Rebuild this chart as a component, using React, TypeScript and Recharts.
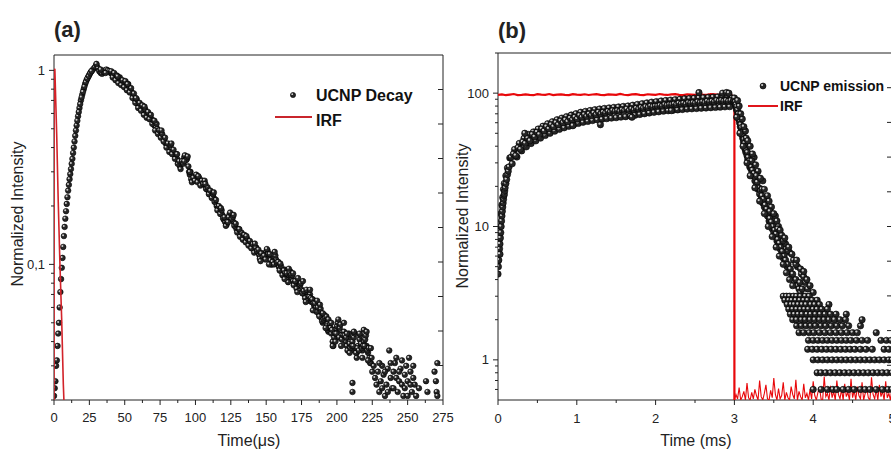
import React from 'react';
import { ScatterChart, Scatter, XAxis, YAxis, Legend } from 'recharts';

const FONT = '"Liberation Sans", Arial, sans-serif';
const INK = '#222';

// ---------- panel (a): UCNP decay, one reading per µs starting at 0 µs
const decayA = [
  0.021, 0.025, 0.032, 0.044, 0.06, 0.084, 0.108, 0.14, 0.172, 0.205,
  0.24, 0.275, 0.31, 0.35, 0.4, 0.46, 0.52, 0.58, 0.64, 0.7,
  0.75, 0.8, 0.85, 0.89, 0.92, 0.95, 0.98, 1.0, 1.02, 1.04,
  1.07, 1.03, 0.99, 0.97, 0.96, 0.98, 1.0, 1.01, 1.0, 0.99,
  0.97, 0.96, 0.94, 0.93, 0.91, 0.9, 0.89, 0.88, 0.86, 0.85,
  0.85, 0.83, 0.82, 0.81, 0.8, 0.77, 0.74, 0.71, 0.69, 0.67,
  0.66, 0.65, 0.64, 0.62, 0.61, 0.6, 0.59, 0.585, 0.58, 0.56,
  0.54, 0.52, 0.51, 0.5, 0.48, 0.47, 0.46, 0.45, 0.44, 0.42,
  0.41, 0.4, 0.4, 0.39, 0.38, 0.37, 0.36, 0.35, 0.335, 0.32,
  0.33, 0.34, 0.355, 0.36, 0.35, 0.32, 0.29, 0.275, 0.27, 0.28,
  0.285, 0.275, 0.27, 0.265, 0.26, 0.27, 0.265, 0.255, 0.245, 0.24,
  0.235, 0.23, 0.225, 0.22, 0.21, 0.2, 0.195, 0.19, 0.185, 0.18,
  0.17, 0.165, 0.16, 0.17, 0.18, 0.178, 0.172, 0.165, 0.158, 0.152,
  0.148, 0.145, 0.142, 0.14, 0.138, 0.136, 0.132, 0.13, 0.128, 0.126,
  0.124, 0.12, 0.118, 0.122, 0.116, 0.112, 0.11, 0.114, 0.108, 0.11,
  0.116, 0.118, 0.11, 0.105, 0.1, 0.104, 0.108, 0.106, 0.1, 0.097,
  0.095, 0.092, 0.09, 0.094, 0.088, 0.084, 0.088, 0.092, 0.085, 0.082,
  0.08, 0.078, 0.082, 0.076, 0.078, 0.074, 0.071, 0.07, 0.072, 0.068,
  0.066, 0.07, 0.064, 0.066, 0.061, 0.06, 0.058, 0.056, 0.057, 0.053,
  0.05, 0.055, 0.052, 0.048, 0.045, 0.049, 0.044, 0.04, 0.042, 0.046,
  0.048, 0.044, 0.047, 0.043, 0.041, 0.045, 0.04, 0.038, 0.042, 0.039,
  0.036, 0.04, 0.042, 0.037, 0.035, 0.038, 0.041, 0.039, 0.036, 0.04,
  0.041, 0.038, 0.035, 0.033, 0.031,
];

// second pass of readings, offset half a µs (40.5 µs onwards)
const decayAHalf = [
  0.99, 0.92, 0.97, 0.89, 0.94, 0.86, 0.92, 0.84, 0.89, 0.82,
  0.88, 0.79, 0.85, 0.77, 0.81, 0.72, 0.76, 0.68, 0.71, 0.64,
  0.68, 0.62, 0.66, 0.59, 0.63, 0.57, 0.61, 0.56, 0.59, 0.53,
  0.55, 0.49, 0.53, 0.47, 0.49, 0.45, 0.47, 0.43, 0.45, 0.4,
  0.42, 0.38, 0.41, 0.37, 0.39, 0.35, 0.37, 0.33, 0.34, 0.31,
  0.34, 0.33, 0.365, 0.345, 0.36, 0.3, 0.3, 0.265, 0.28, 0.27,
  0.29, 0.265, 0.28, 0.255, 0.27, 0.26, 0.27, 0.245, 0.25, 0.23,
  0.24, 0.22, 0.23, 0.21, 0.215, 0.19, 0.2, 0.182, 0.19, 0.173,
  0.175, 0.158, 0.166, 0.175, 0.185, 0.171, 0.176, 0.158, 0.162, 0.146,
  0.152, 0.139, 0.146, 0.134, 0.142, 0.13, 0.136, 0.125, 0.132, 0.121,
  0.127, 0.115, 0.122, 0.117, 0.119, 0.107, 0.114, 0.109, 0.111, 0.106,
  0.12, 0.113, 0.113, 0.1, 0.103, 0.1, 0.111, 0.102, 0.103, 0.093,
  0.098, 0.088, 0.093, 0.09, 0.09, 0.081, 0.091, 0.088, 0.088, 0.078,
  0.082, 0.075, 0.085, 0.073, 0.08, 0.071, 0.073, 0.067, 0.074, 0.065,
  0.068, 0.067, 0.066, 0.063, 0.063, 0.057, 0.06, 0.054, 0.059, 0.051,
  0.052, 0.053, 0.054, 0.046, 0.047, 0.047, 0.046, 0.038, 0.044, 0.044,
  0.05, 0.042, 0.049, 0.041, 0.043, 0.043, 0.042, 0.036, 0.044, 0.037,
  0.038, 0.038, 0.044, 0.035, 0.037, 0.036, 0.043, 0.037, 0.038, 0.038,
  0.043, 0.036, 0.037, 0.031, 0.033,
];

// extra readings on the rising edge and around the band
const decayAExtra: [number, number][] = [
  [0.5, 0.023], [1.5, 0.03], [2.5, 0.038], [3.5, 0.05], [4.5, 0.072], [5.5, 0.096], [6.5, 0.123],
  [7.5, 0.156], [8.5, 0.188], [9.5, 0.222], [10.5, 0.257], [11.5, 0.292], [12.5, 0.33], [13.5, 0.375],
  [14.5, 0.43], [15.5, 0.49], [16.5, 0.55], [17.5, 0.61], [18.5, 0.67], [19.5, 0.725], [20.5, 0.775],
  [21.5, 0.825], [22.5, 0.87], [23.5, 0.905], [24.5, 0.935], [25.5, 0.965], [26.5, 0.99], [30, 1.08],
  [33, 1.01], [36.5, 0.97], [45, 0.93], [52, 0.85], [58, 0.72],
  [64, 0.65], [71, 0.55], [76, 0.49], [83, 0.42], [87, 0.37], [92, 0.34], [96, 0.3], [102, 0.285],
  [107, 0.26], [113, 0.235], [118, 0.195], [123, 0.165], [127, 0.18], [131, 0.152], [136, 0.14],
  [142, 0.128], [146, 0.104], [152, 0.1], [156, 0.116], [160, 0.101], [163, 0.084], [166, 0.095],
  [169, 0.09], [172, 0.072], [176, 0.082], [178, 0.064], [181, 0.074], [183, 0.058], [186, 0.065],
  [188, 0.062], [190, 0.056], [192, 0.047], [194, 0.052], [196, 0.05], [197, 0.038], [199, 0.04],
  [201, 0.052], [203, 0.038], [205, 0.05], [207, 0.044], [209, 0.035], [211, 0.0245], [211, 0.022],
  [212, 0.045], [214, 0.033], [216, 0.044], [218, 0.033], [219, 0.046], [221, 0.045], [222, 0.032],
  [224, 0.037], [225, 0.028],
];

// noisy tail near the noise floor
const decayATail: [number, number][] = [
  [226, 0.03], [227, 0.026], [228, 0.024], [229, 0.028], [230, 0.022], [231, 0.025], [232, 0.03],
  [233, 0.027], [234, 0.021], [235, 0.024], [236, 0.029], [237, 0.036], [238, 0.026], [239, 0.023],
  [240, 0.028], [241, 0.031], [242, 0.026], [243, 0.022], [244, 0.025], [245, 0.029], [246, 0.024],
  [247, 0.021], [248, 0.027], [249, 0.03], [250, 0.025], [251, 0.033], [252, 0.028], [253, 0.022],
  [254, 0.026], [255, 0.024], [256, 0.021], [258, 0.023], [263, 0.025], [264, 0.022], [269, 0.028],
  [270, 0.025], [270.5, 0.022], [271, 0.031], [271, 0.021],
  [230, 0.031], [232, 0.023], [234, 0.028], [236, 0.022], [238, 0.031], [240, 0.023], [242, 0.033],
  [244, 0.028], [246, 0.032], [248, 0.023], [250, 0.021], [252, 0.024], [254, 0.03],
];

const irfA: [number, number][] = [
  [0, 0.02], [0.1, 1.0], [0.6, 1.02], [1.0, 0.8], [1.9, 0.47], [3.0, 0.21], [4.2, 0.1],
  [5.4, 0.053], [6.6, 0.024], [7, 0.02],
];

const aXMajor = [0, 25, 50, 75, 100, 125, 150, 175, 200, 225, 250, 275];
const aXLabels = ['0', '25', '50', '75', '100', '125', '150', '175', '200', '225', '250', '275'];
const aXMinor = [12.5, 37.5, 62.5, 87.5, 112.5, 137.5, 162.5, 187.5, 212.5, 237.5, 262.5];
const aYMajor = [0.1, 1];
const aYLabels = ['0,1', '1'];
const aYMinor = [0.02, 0.03, 0.04, 0.05, 0.06, 0.07, 0.08, 0.09, 0.2, 0.3, 0.4, 0.5, 0.6, 0.7, 0.8, 0.9];

// ---------- panel (b): UCNP emission, time in ms
const emissionEarly: [number, number][] = [
  [0, 4.4], [0, 5.5], [0.005, 5], [0.005, 6.5], [0.01, 5.6], [0.01, 7.5], [0.015, 6.2], [0.015, 8],
  [0.02, 6.8], [0.02, 8.5], [0.025, 7.4], [0.025, 6.2], [0.03, 8.2], [0.03, 10], [0.035, 9],
  [0.04, 10], [0.04, 12.5], [0.045, 11], [0.05, 12], [0.05, 14.5], [0.055, 13], [0.06, 14],
  [0.06, 16.5], [0.065, 15], [0.07, 16], [0.07, 19], [0.075, 17], [0.08, 17.5], [0.08, 21],
  [0.085, 18.5], [0.09, 19.5], [0.1, 21], [0.1, 24], [0.11, 22.5], [0.12, 24.5], [0.12, 27.5],
  [0.13, 26], [0.14, 28],
];

// readings every 0.03 ms from 0.15 ms (upper and lower edge of the band)
const emissionRise = [
  32.7, 29.6, 37.8, 33.2, 42, 36.9, 45.8, 39.6, 49, 41.9,
  51.2, 43.9, 53.8, 46, 56.5, 48.2, 58.9, 50, 61, 51.9,
  63.2, 53.5, 65, 55, 66.7, 56.4, 68.5, 57.9, 70.2, 59.3,
  71.9, 60.5, 73, 61.4, 74.1, 62.3, 75.1, 63.1, 76, 63.8,
  76.8, 64.4, 77.5, 65, 78.2, 65.5, 78.8, 66.1, 79.5, 66.6,
  80.1, 67.3, 81.2, 68.3, 82.3, 69.2, 83.4, 70.1, 84.5, 71,
  85.6, 71.8, 86.4, 72.5, 87.3, 73.3, 88.1, 73.8, 88.7, 74.3,
  89.4, 74.9, 90, 75.4, 90.7, 76, 91.2, 76.3, 91.7, 76.7,
  92.1, 77.1, 92.5, 77.4, 93, 77.8, 93.4, 78.2, 93.8, 78.5,
  94.3, 78.9, 94.7, 79.2, 92,
];

// readings every 0.03 ms from 0.165 ms (middle of the band)
const emissionRiseMid = [
  33, 35, 34, 39, 38, 43, 42, 46, 44, 49,
  47, 51, 49, 54, 52, 56, 54, 58, 56, 60,
  58, 62, 60, 63, 61, 65, 63, 66, 64, 68,
  66, 69, 67, 70, 68, 71, 69, 72, 70, 72,
  71, 73, 72, 74, 73, 74, 73, 75, 74, 76,
  74, 76, 75, 77, 76, 78, 77, 79, 78, 80,
  79, 80, 80, 81, 80, 82, 81, 82, 82, 83,
  82, 84, 83, 84, 83, 85, 84, 85, 84, 86,
  85, 86, 85, 87, 86, 87, 86, 88, 87, 88,
  87, 88, 87, 88, 86,
];

const emissionExtra: [number, number][] = [
  [0.34, 50], [0.95, 57], [1.3, 58], [1.7, 66], [2.2, 74], [2.55, 101], [2.85, 100], [2.9, 101], [2.93, 100],
];

const emissionDecay: [number, number][] = [
  [2.99, 88], [3.0, 92], [3.005, 84], [3.01, 86], [3.015, 80], [3.02, 82], [3.025, 76], [3.03, 79],
  [3.035, 73], [3.04, 75], [3.045, 68], [3.05, 70], [3.055, 64], [3.06, 66], [3.065, 60], [3.07, 62],
  [3.075, 56], [3.08, 58], [3.085, 52], [3.09, 55], [3.095, 49], [3.1, 51], [3.105, 46], [3.11, 48],
  [3.115, 43], [3.12, 45], [3.125, 41], [3.13, 42], [3.135, 38], [3.14, 40], [3.145, 36], [3.15, 37.5],
  [3.16, 34], [3.165, 36], [3.17, 32], [3.175, 33], [3.18, 30], [3.19, 31], [3.195, 28], [3.2, 29.5],
  [3.21, 27], [3.215, 28], [3.22, 25], [3.23, 26.5], [3.24, 24], [3.25, 25], [3.26, 22], [3.27, 23],
  [3.28, 20.5], [3.29, 21.5], [3.3, 19], [3.31, 19.5], [3.32, 17.5], [3.33, 18.5], [3.34, 16], [3.35, 17],
  [3.36, 15], [3.37, 16], [3.38, 14], [3.39, 14.5], [3.4, 13], [3.41, 13.5], [3.42, 12], [3.43, 12.5],
  [3.44, 11], [3.45, 11.5], [3.46, 10.5], [3.47, 10.8], [3.48, 9.6], [3.49, 10], [3.5, 9], [3.51, 9.4],
  [3.52, 8.4], [3.53, 8.8], [3.54, 7.8], [3.55, 8], [3.56, 7.2], [3.57, 7.5], [3.58, 6.8], [3.59, 7],
  [3.6, 6.3], [3.61, 6.5], [3.62, 5.8], [3.63, 6], [3.64, 5.4], [3.65, 5.6], [3.67, 5], [3.68, 5.2],
  [3.7, 4.6], [3.71, 4.8], [3.73, 4.2], [3.74, 4.4], [3.76, 3.8], [3.78, 4], [3.8, 3.6], [3.82, 3.4],
  [3.84, 3.2], [3.86, 3.4],
  [3.14, 52], [3.2, 40], [3.25, 33], [3.3, 26], [3.36, 22], [3.42, 17], [3.47, 14], [3.52, 12],
  [3.56, 10], [3.6, 8.6], [3.65, 7.4], [3.7, 6.4], [3.75, 5.6], [3.8, 5], [3.85, 4.4], [3.9, 3.8],
  [3.93, 3.4], [3.06, 80], [3.1, 64], [3.15, 46], [3.22, 31], [3.28, 24], [3.35, 19], [3.45, 13],
  [3.55, 9.6], [3.62, 7.8], [3.68, 6.6], [3.78, 5.2], [3.88, 4.2], [3.83, 3.8],
  [3.04, 88], [3.08, 70], [3.12, 56], [3.17, 44], [3.23, 35], [3.27, 29], [3.33, 23], [3.38, 19],
  [3.44, 15.5], [3.5, 12.5], [3.54, 11], [3.58, 9.4], [3.64, 8.2], [3.69, 7], [3.73, 6.2], [3.79, 5.6],
  [3.84, 4.8], [3.88, 4.6], [3.92, 4], [3.96, 3.6], [4.0, 3.2],
  [3.03, 66], [3.07, 50], [3.11, 40], [3.16, 30], [3.2, 24], [3.26, 19.5], [3.32, 15.5], [3.38, 12.5],
  [3.43, 10], [3.48, 8.4], [3.53, 7], [3.57, 6], [3.62, 5.2], [3.66, 4.5], [3.7, 4], [3.74, 3.6],
];

// photon-count floor: readings sit on discrete levels
const tailLevels = [3.0, 2.8, 2.6, 2.4, 2.2, 2.0, 1.8, 1.6, 1.4, 1.2, 1.0, 0.8, 0.6];
const tailTimes = [
  [3.62, 3.66, 3.7, 3.75, 3.79, 3.84, 3.9, 3.95],
  [3.64, 3.69, 3.73, 3.78, 3.83, 3.88, 3.93, 3.99, 4.05],
  [3.67, 3.72, 3.76, 3.81, 3.86, 3.91, 3.97, 4.02, 4.08, 4.2],
  [3.69, 3.74, 3.79, 3.84, 3.89, 3.94, 4.0, 4.05, 4.11, 4.18],
  [3.71, 3.76, 3.81, 3.86, 3.92, 3.97, 4.03, 4.09, 4.15, 4.22, 4.29, 4.42],
  [3.74, 3.79, 3.85, 3.9, 3.96, 4.02, 4.08, 4.14, 4.2, 4.27, 4.34, 4.41, 4.62],
  [3.79, 3.85, 3.91, 3.97, 4.03, 4.1, 4.16, 4.23, 4.3, 4.37, 4.45, 4.6],
  [3.82, 3.88, 3.95, 4.01, 4.08, 4.15, 4.22, 4.29, 4.36, 4.43, 4.5, 4.56, 4.8],
  [3.94, 4.0, 4.06, 4.12, 4.18, 4.24, 4.3, 4.36, 4.42, 4.48, 4.55, 4.62, 4.69, 4.86, 4.93, 4.99],
  [3.93, 3.99, 4.05, 4.11, 4.17, 4.23, 4.29, 4.35, 4.41, 4.47, 4.53, 4.6, 4.67, 4.75, 4.9, 4.96],
  [4.0, 4.06, 4.12, 4.18, 4.24, 4.3, 4.36, 4.42, 4.48, 4.54, 4.6, 4.66, 4.72, 4.78, 4.84, 4.9, 4.96, 5.0],
  [4.05, 4.1, 4.16, 4.22, 4.28, 4.34, 4.4, 4.46, 4.52, 4.58, 4.64, 4.7, 4.76, 4.82, 4.88, 4.94, 5.0],
  [4.0, 4.1, 4.18, 4.25, 4.3, 4.38, 4.45, 4.52, 4.6, 4.66, 4.72, 4.8, 4.88, 4.95, 5.0],
];

// IRF: flat plateau every 0.05 ms up to the 3 ms cut-off
const irfBFlat = [
  97, 98, 96.5, 97.5, 98.5, 96.8, 97.2, 98, 97, 96.5, 98.2, 97.5, 97, 98.5, 96.8, 97.6, 98, 97.1, 96.6, 98.3,
  97.4, 97, 98.1, 96.9, 97.7, 98.4, 97.2, 96.7, 98, 97.5, 97, 98.6, 97.3, 96.8, 97.9, 98.2, 97, 96.6, 98.1, 97.6,
  97.1, 98.5, 97.4, 96.9, 97.8, 98.3, 97.2, 96.7, 98, 97.5, 97.1, 98.4, 97.6, 97, 98.2, 97.8, 97.3, 98.6, 97.9, 97.5,
];
const irfBEdge: [number, number][] = [[2.98, 95], [3.0, 90], [3.0, 0.5]];
// IRF noise floor every 0.02 ms after 3 ms
const irfBFloor = [
  0.5, 0.55, 0.51, 0.62, 0.5, 0.53, 0.58, 0.5, 0.67, 0.52,
  0.5, 0.57, 0.51, 0.6, 0.54, 0.5, 0.7, 0.53, 0.5, 0.56,
  0.65, 0.51, 0.5, 0.59, 0.52, 0.73, 0.55, 0.5, 0.61, 0.51,
  0.54, 0.68, 0.5, 0.57, 0.52, 0.5, 0.63, 0.55, 0.51, 0.71,
  0.5, 0.58, 0.53, 0.5, 0.66, 0.52, 0.56, 0.5, 0.6, 0.51,
  0.69, 0.54, 0.5, 0.57, 0.62, 0.51, 0.5, 0.75, 0.53, 0.56,
  0.5, 0.64, 0.52, 0.58, 0.5, 0.7, 0.55, 0.51, 0.6, 0.5,
  0.66, 0.53, 0.57, 0.5, 0.72, 0.52, 0.59, 0.5, 0.63, 0.54,
  0.51, 0.68, 0.5, 0.56, 0.61, 0.52, 0.5, 0.74, 0.55, 0.51,
  0.6, 0.5, 0.65, 0.53, 0.58, 0.5, 0.69, 0.52, 0.56, 0.5,
  0.62,
];

const bXMajor = [0, 1, 2, 3, 4, 5];
const bXLabels = ['0', '1', '2', '3', '4', '5'];
const bXMinor = [0.5, 1.5, 2.5, 3.5, 4.5];
const bYMajor = [1, 10, 100];
const bYLabels = ['1', '10', '100'];
const bYMinor = [0.6, 0.7, 0.8, 0.9, 2, 3, 4, 5, 6, 7, 8, 9, 20, 30, 40, 50, 60, 70, 80, 90, 200];

const frameTicks = [1, 2, 3, 4, 5, 6, 7, 8, 9];

// ---------- build point lists
const pairs = (list: [number, number][]) => list.map(([t, v]) => ({ t, v }));

const decayAData = [
  ...decayA.map((v, i) => ({ t: i, v })),
  ...decayAHalf.map((v, i) => ({ t: 40.5 + i, v })),
  ...pairs(decayAExtra),
  ...pairs(decayATail),
];
const irfAData = pairs(irfA);

const emissionData = [
  ...pairs(emissionEarly),
  ...emissionRise.map((v, i) => ({ t: 0.15 + i * 0.03, v })),
  ...emissionRiseMid.map((v, i) => ({ t: 0.165 + i * 0.03, v })),
  ...pairs(emissionExtra),
  ...pairs(emissionDecay),
  ...tailLevels.flatMap((v, k) => tailTimes[k].map((t) => ({ t, v }))),
];
const irfBTopData = [...irfBFlat.map((v, i) => ({ t: i * 0.05, v })), ...pairs(irfBEdge)];
const irfBFloorData = irfBFloor.map((v, i) => ({ t: 3 + i * 0.02, v }));

// ---------- drawing helpers
const Ball = ({ cx, cy, r }: { cx?: number; cy?: number; r: number }) => {
  if (cx == null || cy == null) return <g />;
  return (
    <g>
      <circle cx={cx} cy={cy} r={r} fill="#262626" stroke="#000" strokeWidth={0.6} />
      <circle cx={cx - r * 0.3} cy={cy - r * 0.32} r={r * 0.36} fill="#cfcfcf" />
    </g>
  );
};

type Side = 'bottom' | 'left' | 'top' | 'right';

// tick line + optional label, drawn from the axis position recharts passes in
const tickMark =
  (side: Side, majors: number[], labels: string[], majorLen: number, minorLen: number, gap: number) =>
  (props: any) => {
    const { x, y, payload } = props;
    const k = majors.indexOf(payload.value);
    const len = k >= 0 ? majorLen : minorLen;
    let x2 = x;
    let y2 = y;
    let tx = x;
    let ty = y;
    let anchor: 'middle' | 'end' = 'middle';
    if (side === 'bottom') {
      y2 = y + len;
      ty = y + gap;
    } else if (side === 'top') {
      y2 = y + len;
    } else if (side === 'left') {
      x2 = x - len;
      tx = x - gap;
      anchor = 'end';
    } else {
      x2 = x - len;
    }
    return (
      <g>
        <line x1={x} y1={y} x2={x2} y2={y2} stroke={INK} strokeWidth={1} />
        {k >= 0 && labels[k] ? (
          <text x={tx} y={ty} textAnchor={anchor} dominantBaseline="central" fontFamily={FONT} fontSize={13} fill={INK}>
            {labels[k]}
          </text>
        ) : null}
      </g>
    );
  };

const axisLine = { stroke: INK, strokeWidth: 1 };

const LegendA = () => (
  <svg width={160} height={48} style={{ display: 'block' }}>
    <Ball cx={23} cy={13} r={2.6} />
    <text x={46} y={13} dominantBaseline="central" fontFamily={FONT} fontWeight="bold" fontSize={16} fill="#111">
      UCNP Decay
    </text>
    <line x1={5} y1={35} x2={42} y2={35} stroke="#c9252c" strokeWidth={2} />
    <text x={46} y={38} dominantBaseline="central" fontFamily={FONT} fontWeight="bold" fontSize={16} fill="#111">
      IRF
    </text>
  </svg>
);

const LegendB = () => (
  <svg width={146} height={42} style={{ display: 'block' }}>
    <Ball cx={18} cy={12} r={3} />
    <text x={35} y={12} dominantBaseline="central" fontFamily={FONT} fontWeight="bold" fontSize={14} fill="#111">
      UCNP emission
    </text>
    <line x1={3} y1={32} x2={33} y2={32} stroke="#e0151b" strokeWidth={2} />
    <text x={35} y={32} dominantBaseline="central" fontFamily={FONT} fontWeight="bold" fontSize={14} fill="#111">
      IRF
    </text>
  </svg>
);

const PanelA = () => (
  <ScatterChart width={460} height={455} margin={{ top: 54, left: 53, right: 16, bottom: 54 }}>
    <XAxis
      xAxisId="main"
      dataKey="t"
      type="number"
      domain={[0, 275]}
      allowDataOverflow
      ticks={[...aXMajor, ...aXMinor]}
      interval={0}
      height={1}
      tickSize={0}
      tickMargin={0}
      tickLine={false}
      axisLine={axisLine}
      tick={tickMark('bottom', aXMajor, aXLabels, 5, 3, 17)}
    />
    <XAxis
      xAxisId="top"
      orientation="top"
      type="number"
      domain={[0, 10]}
      allowDataOverflow
      ticks={frameTicks}
      interval={0}
      height={1}
      tickSize={0}
      tickMargin={0}
      tickLine={false}
      axisLine={axisLine}
      tick={tickMark('top', frameTicks, [], 7, 7, 0)}
    />
    <YAxis
      yAxisId="main"
      dataKey="v"
      type="number"
      scale="log"
      domain={[0.02, 1.2]}
      allowDataOverflow
      ticks={[...aYMajor, ...aYMinor]}
      interval={0}
      width={1}
      tickSize={0}
      tickMargin={0}
      tickLine={false}
      axisLine={axisLine}
      tick={tickMark('left', aYMajor, aYLabels, 5, 3, 9)}
    />
    <YAxis
      yAxisId="right"
      orientation="right"
      type="number"
      domain={[0, 10]}
      allowDataOverflow
      ticks={frameTicks}
      interval={0}
      width={1}
      tickSize={0}
      tickMargin={0}
      tickLine={false}
      axisLine={axisLine}
      tick={tickMark('right', frameTicks, [], 5, 5, 0)}
    />
    <Scatter
      name="UCNP Decay"
      xAxisId="main"
      yAxisId="main"
      data={decayAData}
      isAnimationActive={false}
      shape={(p: any) => <Ball cx={p.cx} cy={p.cy} r={2.8} />}
    />
    <Scatter
      name="IRF"
      xAxisId="main"
      yAxisId="main"
      data={irfAData}
      isAnimationActive={false}
      line={{ stroke: '#d2232a', strokeWidth: 1.6 }}
      shape={() => <g />}
    />
    <Legend
      layout="vertical"
      align="center"
      verticalAlign="middle"
      width={160}
      height={48}
      wrapperStyle={{ left: 270, top: 82 }}
      content={() => <LegendA />}
    />
  </ScatterChart>
);

const PanelB = () => (
  <ScatterChart width={460} height={455} margin={{ top: 52, left: 57, right: 7, bottom: 54 }}>
    <XAxis
      xAxisId="main"
      dataKey="t"
      type="number"
      domain={[0, 5]}
      allowDataOverflow
      ticks={[...bXMajor, ...bXMinor]}
      interval={0}
      height={1}
      tickSize={0}
      tickMargin={0}
      tickLine={false}
      axisLine={axisLine}
      tick={tickMark('bottom', bXMajor, bXLabels, 5, 3, 18)}
    />
    <XAxis
      xAxisId="top"
      orientation="top"
      type="number"
      domain={[0, 5]}
      allowDataOverflow
      ticks={[...bXMajor, ...bXMinor]}
      interval={0}
      height={1}
      tickSize={0}
      tickMargin={0}
      tickLine={false}
      axisLine={axisLine}
      tick={tickMark('top', bXMajor, [], 7, 5, 0)}
    />
    <YAxis
      yAxisId="main"
      dataKey="v"
      type="number"
      scale="log"
      domain={[0.5, 200]}
      allowDataOverflow
      ticks={[...bYMajor, ...bYMinor]}
      interval={0}
      width={1}
      tickSize={0}
      tickMargin={0}
      tickLine={false}
      axisLine={axisLine}
      tick={tickMark('left', bYMajor, bYLabels, 5, 3, 9)}
    />
    <YAxis
      yAxisId="right"
      orientation="right"
      type="number"
      domain={[0, 10]}
      allowDataOverflow
      ticks={frameTicks}
      interval={0}
      width={1}
      tickSize={0}
      tickMargin={0}
      tickLine={false}
      axisLine={axisLine}
      tick={tickMark('right', frameTicks, [], 5, 5, 0)}
    />
    <Scatter
      name="IRF"
      xAxisId="main"
      yAxisId="main"
      data={irfBTopData}
      isAnimationActive={false}
      line={{ stroke: '#e8080b', strokeWidth: 2.2 }}
      shape={() => <g />}
    />
    <Scatter
      name="IRF floor"
      xAxisId="main"
      yAxisId="main"
      data={irfBFloorData}
      isAnimationActive={false}
      line={{ stroke: '#e8080b', strokeWidth: 1.1 }}
      shape={() => <g />}
      legendType="none"
    />
    <Scatter
      name="UCNP emission"
      xAxisId="main"
      yAxisId="main"
      data={emissionData}
      isAnimationActive={false}
      shape={(p: any) => <Ball cx={p.cx} cy={p.cy} r={3.2} />}
    />
    <Legend
      layout="vertical"
      align="center"
      verticalAlign="middle"
      width={146}
      height={42}
      wrapperStyle={{ left: 305, top: 74 }}
      content={() => <LegendB />}
    />
  </ScatterChart>
);

const txt = { fontFamily: FONT, fill: INK } as const;

export default function App() {
  return (
    <div style={{ position: 'absolute', left: 0, top: 0, width: 891, height: 455, overflow: 'hidden', background: '#fff' }}>
      <div style={{ position: 'absolute', left: 0, top: 0 }}>
        <PanelA />
      </div>
      <div style={{ position: 'absolute', left: 440, top: 0 }}>
        <PanelB />
      </div>
      <svg width={891} height={455} style={{ position: 'absolute', left: 0, top: 0, pointerEvents: 'none' }}>
        <text x={54} y={29} dominantBaseline="central" fontWeight="bold" fontSize={22} {...txt}>
          (a)
        </text>
        <text x={498} y={30} dominantBaseline="central" fontWeight="bold" fontSize={22} {...txt}>
          (b)
        </text>
        <text x={249} y={440} textAnchor="middle" dominantBaseline="central" fontSize={16} {...txt}>
          Time(μs)
        </text>
        <text x={696} y={440} textAnchor="middle" dominantBaseline="central" fontSize={16} {...txt}>
          Time (ms)
        </text>
        <text
          x={17}
          y={214}
          textAnchor="middle"
          dominantBaseline="central"
          fontSize={16}
          transform="rotate(-90 17 214)"
          {...txt}
        >
          Normalized Intensity
        </text>
        <text
          x={462}
          y={216}
          textAnchor="middle"
          dominantBaseline="central"
          fontSize={16}
          transform="rotate(-90 462 216)"
          {...txt}
        >
          Normalized Intensity
        </text>
      </svg>
    </div>
  );
}
